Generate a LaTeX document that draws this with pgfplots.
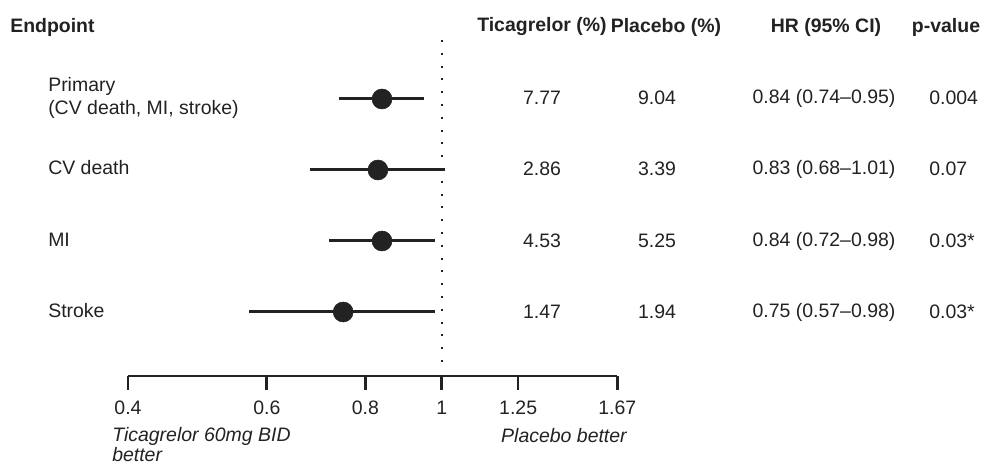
\documentclass[border=0pt]{standalone}
\usepackage{pgfplots}
\pgfplotsset{compat=1.18}
\usepackage{fontspec}
\setmainfont{Liberation Sans}
\definecolor{ink}{HTML}{222222}
\newcommand\fs{\fontsize{14.6}{17}\selectfont}
\begin{document}
\begin{tikzpicture}
\path[use as bounding box] (0pt,0pt) rectangle (740.25pt,349.5pt);
\begin{axis}[
  at={(96pt,67.5pt)}, anchor=south west,
  scale only axis,
  width=367pt, height=252pt,
  xmode=log, xmin=0.4, xmax=1.67, ymin=0, ymax=336,
  axis x line*=bottom, axis y line=none,
  xtick={0.4,0.6,0.8,1,1.25,1.67},
  xticklabels={0.4,0.6,0.8,1,1.25,1.67},
  x axis line style={line width=2pt, draw=ink, -},
  xtick style={line width=2pt, draw=ink},
  tick align=outside, major tick length=10.5pt,
  xticklabel style={font=\fs, text=ink, yshift=-5pt},
  /pgf/number format/assume math mode=true,
  clip=false,
]
\addplot[ink, line width=1.5pt, dash pattern=on 1.5pt off 8.1pt, forget plot] coordinates {(1,336) (1,8)};
\addplot[ink, line width=2.25pt] coordinates {(0.74,277) (0.95,277)};
\addplot[ink, line width=2.25pt] coordinates {(0.68,206) (1.01,206)};
\addplot[ink, line width=2.25pt] coordinates {(0.72,135) (0.98,135)};
\addplot[ink, line width=2.25pt] coordinates {(0.57,64) (0.98,64)};
\addplot[only marks, mark=*, mark size=7.5pt, ink] coordinates {(0.84,277) (0.83,206) (0.84,135) (0.75,64)};
\end{axis}
\begin{scope}[x=0.75pt, y=0.75pt, every node/.style={font=\fs, text=ink, inner sep=0pt}]
\node[anchor=west, font=\fs\bfseries] at (10,439) {Endpoint};
\node[font=\fs\bfseries] at (542,439) {Ticagrelor (\%)};
\node[font=\fs\bfseries] at (666,439) {Placebo (\%)};
\node[font=\fs\bfseries] at (826,439) {HR (95\% CI)};
\node[font=\fs\bfseries] at (946,439) {p-value};
% row labels
\node[anchor=west] at (48,380) {Primary};
\node[anchor=west] at (48,357) {(CV death, MI, stroke)};
\node[anchor=west] at (48,298) {CV death};
\node[anchor=west] at (48,226) {MI};
\node[anchor=west] at (48,155) {Stroke};
% values
\node at (542,368) {7.77};
\node at (657,368) {9.04};
\node at (824,368) {0.84 (0.74--0.95)};
\node[anchor=west] at (929,368) {0.004};
\node at (542,297) {2.86};
\node at (657,297) {3.39};
\node at (824,297) {0.83 (0.68--1.01)};
\node[anchor=west] at (929,297) {0.07};
\node at (542,225) {4.53};
\node at (657,225) {5.25};
\node at (824,225) {0.84 (0.72--0.98)};
\node[anchor=west] at (929,225) {0.03*};
\node at (542,154) {1.47};
\node at (657,154) {1.94};
\node at (824,154) {0.75 (0.57--0.98)};
\node[anchor=west] at (929,154) {0.03*};
% bottom labels
\node[anchor=west, font=\fs\itshape] at (112,30) {Ticagrelor 60mg BID};
\node[anchor=west, font=\fs\itshape] at (112,11) {better};
\node[anchor=east, font=\fs\itshape] at (627,30) {Placebo better};
\end{scope}
\end{tikzpicture}
\end{document}
